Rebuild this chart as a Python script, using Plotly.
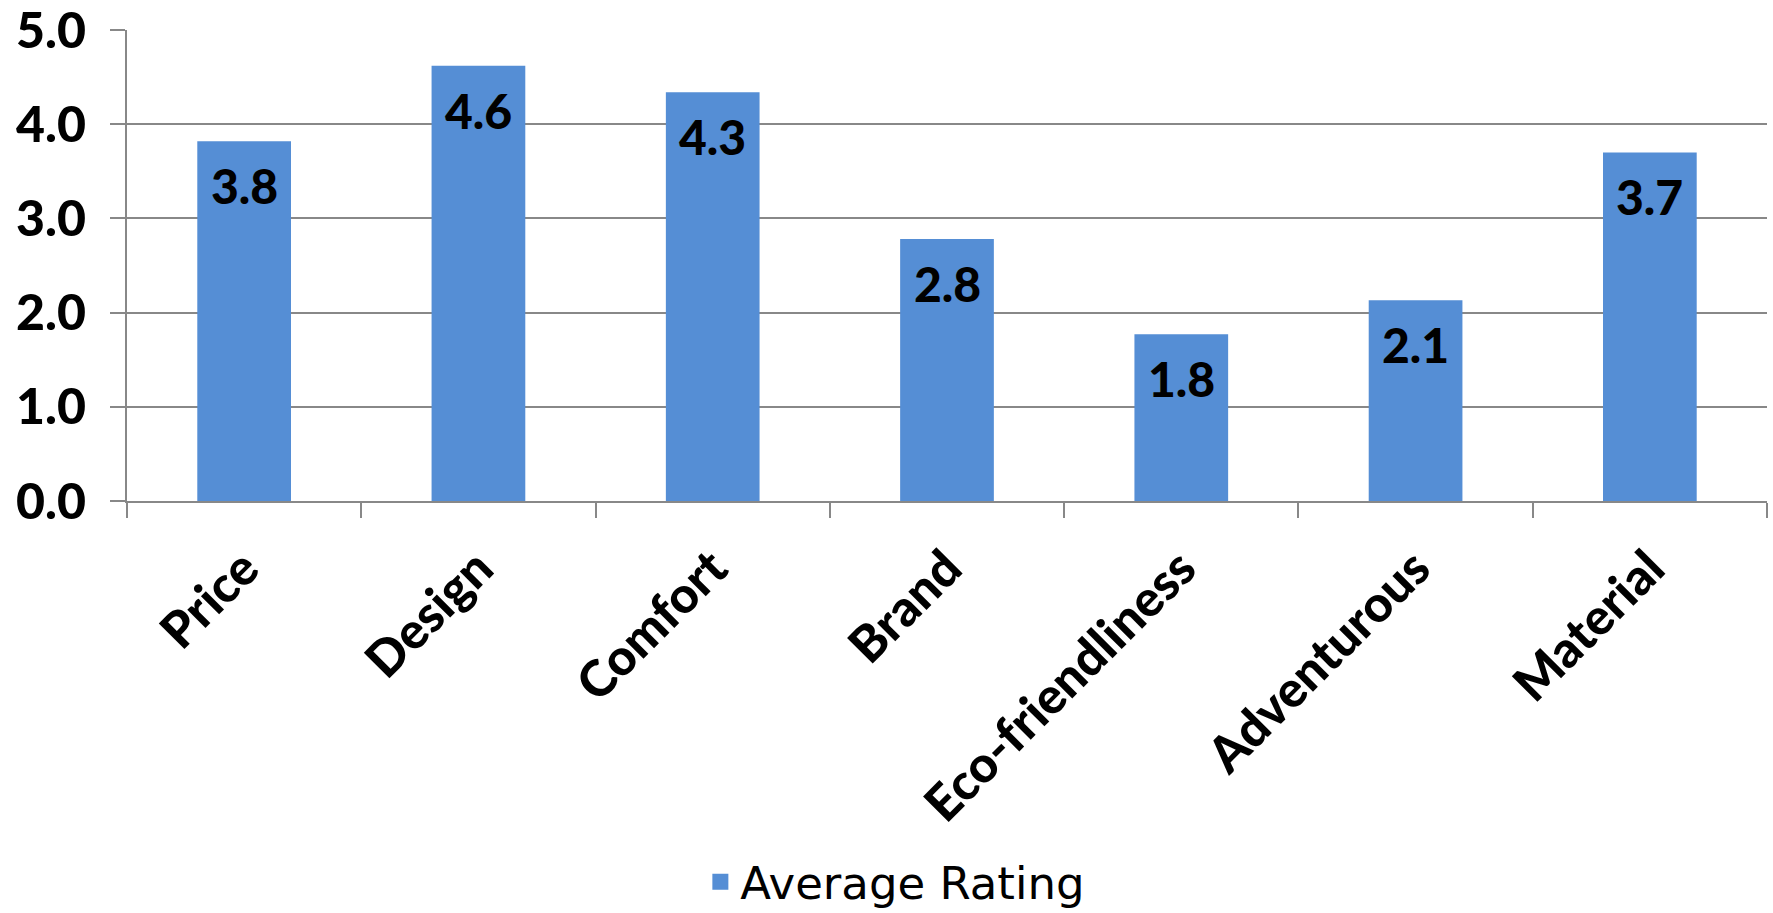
import plotly.graph_objects as go

# Survey results: average rating per product attribute
categories = ["Price", "Design", "Comfort", "Brand", "Eco-friendliness", "Adventurous", "Material"]
ratings = [3.82, 4.62, 4.34, 2.78, 1.77, 2.13, 3.70]
y_ticks = [0, 1, 2, 3, 4, 5]
series_name = "Average Rating"

BAR_COLOR = "#558ED5"
GRID_COLOR = "#888888"
BOLD_FONT = "Lato"
HEAVY = 900

fig = go.Figure()

fig.add_trace(go.Bar(
    x=categories,
    y=ratings,
    marker=dict(color=BAR_COLOR, line=dict(width=0)),
    showlegend=False,
    hoverinfo="x+y",
))

# legend entry drawn as a square swatch
fig.add_trace(go.Scatter(
    x=[None], y=[None],
    mode="markers",
    name=series_name,
    marker=dict(symbol="square", size=24, color=BAR_COLOR),
    showlegend=True,
))

# value labels just inside the top of each bar
for cat, val in zip(categories, ratings):
    fig.add_annotation(
        x=cat, y=val,
        text=f"{val:.1f}",
        showarrow=False,
        yanchor="top",
        yshift=-14,
        font=dict(family=BOLD_FONT, size=48, color="black", weight=HEAVY),
    )

fig.update_layout(
    width=1773,
    height=913,
    margin=dict(l=127, r=6, t=30, b=412, autoexpand=False),
    plot_bgcolor="white",
    paper_bgcolor="white",
    bargap=0.6,
    legend=dict(
        orientation="h",
        xref="container", yref="container",
        x=0.505, xanchor="center",
        y=0.034, yanchor="middle",
        font=dict(family="DejaVu Sans", size=45, color="black"),
        itemsizing="trace",
    ),
)

fig.update_xaxes(
    showline=True,
    linecolor=GRID_COLOR,
    linewidth=2,
    ticks="outside",
    tickson="boundaries",
    ticklen=15,
    tickwidth=2,
    tickcolor=GRID_COLOR,
    tickangle=-45,
    tickfont=dict(family=BOLD_FONT, size=50, color="black", weight=HEAVY),
    ticklabelstandoff=16,
    ticklabeloverflow="allow",
    showgrid=False,
    automargin=False,
)

fig.update_yaxes(
    range=[0, 5],
    tickvals=y_ticks,
    tickformat=".1f",
    showline=True,
    linecolor=GRID_COLOR,
    linewidth=2,
    ticks="outside",
    ticklen=15,
    tickwidth=2,
    tickcolor=GRID_COLOR,
    showgrid=True,
    gridcolor=GRID_COLOR,
    gridwidth=2,
    zeroline=False,
    tickfont=dict(family=BOLD_FONT, size=50, color="black", weight=HEAVY),
    ticklabelstandoff=14,
    ticklabeloverflow="allow",
    automargin=False,
)

fig.write_html("out.html")
